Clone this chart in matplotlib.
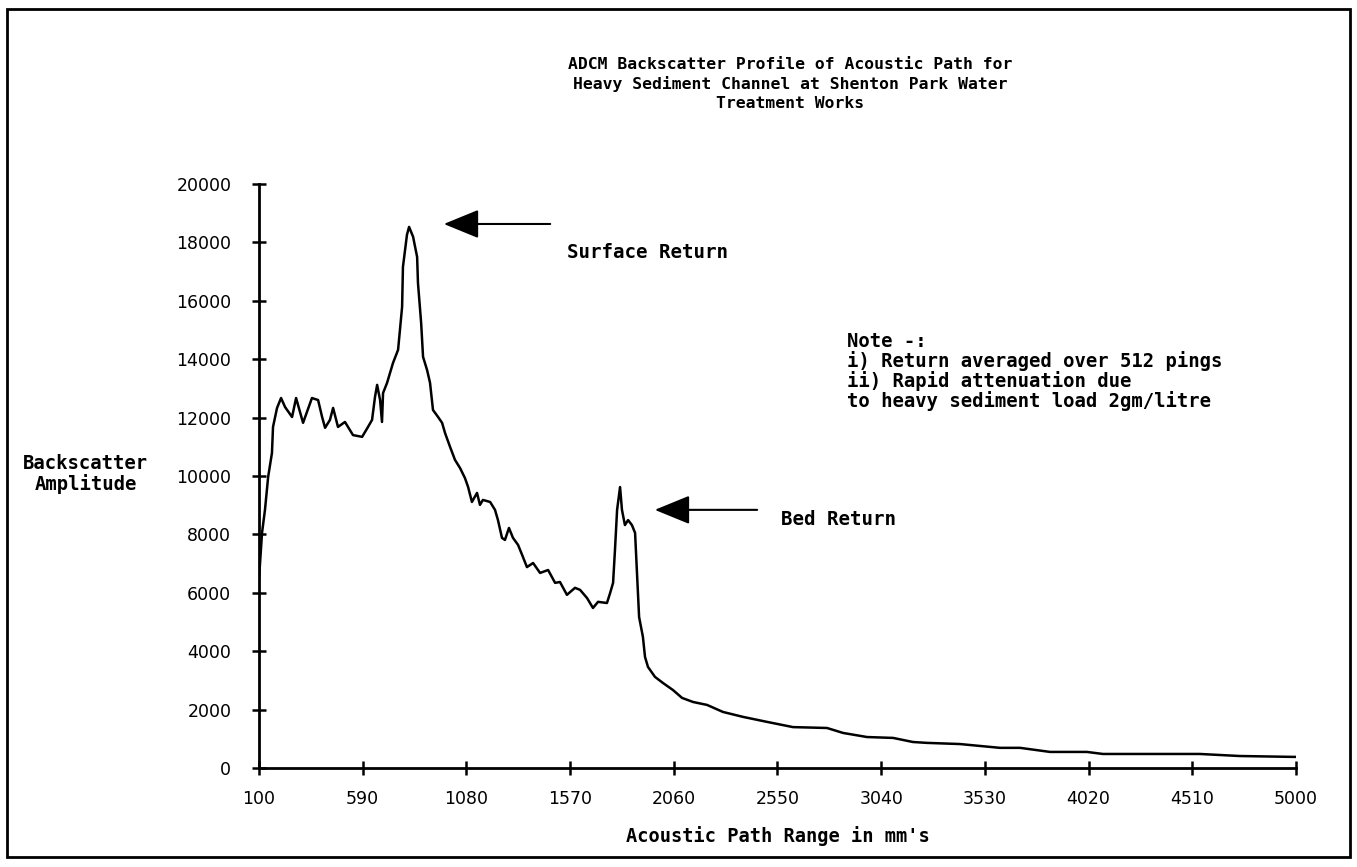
import matplotlib
matplotlib.use("Agg")
import matplotlib.pyplot as plt
from matplotlib.patches import Rectangle

# acoustic path range (mm) and backscatter amplitude
rng = [100, 114, 128, 143, 161, 166, 185, 204, 223, 256, 275, 308, 350, 379, 398, 412,
       435, 450, 473, 506, 544, 587, 615, 634, 648, 658, 672, 681, 686, 705, 719, 733,
       757, 776, 780, 799, 809, 828, 847, 851, 866, 875, 894, 908, 922, 946, 965, 979,
       1003, 1026, 1050, 1073, 1088, 1106, 1130, 1144, 1158, 1192, 1215, 1229, 1248, 1262,
       1281, 1300, 1324, 1343, 1366, 1395, 1428, 1466, 1499, 1522, 1555, 1593, 1617, 1650,
       1678, 1702, 1744, 1759, 1773, 1782, 1792, 1806, 1815, 1829, 1844, 1862, 1877, 1886,
       1896, 1914, 1924, 1938, 1971, 2009, 2056, 2099, 2151, 2217, 2292, 2387, 2500, 2623,
       2784, 2860, 2973, 3096, 3190, 3256, 3412, 3601, 3696, 3838, 4012, 4088, 4230, 4546,
       4735, 4986, 5000]
amp = [6500, 8050, 8840, 9970, 10790, 11680, 12330, 12670, 12360, 12020, 12670, 11820,
       12670, 12600, 12020, 11650, 11920, 12330, 11680, 11850, 11400, 11340, 11680, 11920,
       12710, 13120, 12600, 11850, 12840, 13190, 13530, 13870, 14320, 15790, 17160, 18260,
       18530, 18190, 17500, 16610, 15240, 14080, 13630, 13190, 12260, 12020, 11820, 11470,
       10990, 10550, 10270, 9930, 9620, 9110, 9420, 9010, 9180, 9110, 8840, 8490, 7880,
       7810, 8220, 7880, 7640, 7300, 6880, 7020, 6680, 6780, 6340, 6370, 5930, 6170, 6100,
       5820, 5480, 5690, 5650, 5990, 6340, 7470, 8840, 9620, 8840, 8320, 8490, 8320, 8050,
       6680, 5170, 4490, 3800, 3460, 3120, 2910, 2670, 2400, 2260, 2160, 1920, 1750, 1580,
       1400, 1370, 1200, 1060, 1030, 890, 860, 820, 690, 690, 550, 550, 480, 480, 480, 410,
       380, 380]

xticks = [100, 590, 1080, 1570, 2060, 2550, 3040, 3530, 4020, 4510, 5000]
yticks = list(range(0, 20001, 2000))

title = ("ADCM Backscatter Profile of Acoustic Path for\n"
         "Heavy Sediment Channel at Shenton Park Water\n"
         "Treatment Works")
note = ("Note -:\n"
        "i) Return averaged over 512 pings\n"
        "ii) Rapid attenuation due\n"
        "to heavy sediment load 2gm/litre")

mono = dict(family="DejaVu Sans Mono", fontweight="bold")

fig = plt.figure(figsize=(13.57, 8.67), dpi=100)
ax = fig.add_axes([0.1909, 0.1142, 0.7641, 0.6736])

ax.plot(rng, amp, color="black", lw=1.8)

ax.set_xlim(100, 5000)
ax.set_ylim(0, 20000)
ax.set_xticks(xticks)
ax.set_yticks(yticks)
for s in ["top", "right"]:
    ax.spines[s].set_visible(False)
for s in ["left", "bottom"]:
    ax.spines[s].set_linewidth(2)
ax.tick_params(direction="inout", length=10, width=1.8, labelsize=12.5)
ax.tick_params(axis="x", pad=11)
ax.tick_params(axis="y", pad=15)

ax.set_xlabel("Acoustic Path Range in mm's", fontsize=13.4, labelpad=13, **mono)
fig.text(0.063, 0.453, "Backscatter\nAmplitude", ha="center", va="center",
         fontsize=13.6, linespacing=1.05, **mono)
fig.text(0.582, 0.903, title, ha="center", va="center", fontsize=11.8,
         linespacing=1.3, **mono)

# annotations
ax.annotate("", xy=(960, 18630), xytext=(1489, 18630),
            arrowprops=dict(arrowstyle="-|>,head_length=1.1,head_width=0.45",
                            mutation_scale=20, color="black", lw=1.5))
ax.text(1555, 17650, "Surface Return", fontsize=13.8, va="center", **mono)
ax.annotate("", xy=(1957, 8840), xytext=(2467, 8840),
            arrowprops=dict(arrowstyle="-|>,head_length=1.1,head_width=0.45",
                            mutation_scale=20, color="black", lw=1.5))
ax.text(2565, 8500, "Bed Return", fontsize=13.8, va="center", **mono)
fig.text(0.624, 0.617, note, ha="left", va="top", fontsize=13.6,
         linespacing=1.0, **mono)

fig.patches.append(Rectangle((0.005, 0.012), 0.99, 0.978, transform=fig.transFigure,
                             fill=False, edgecolor="black", lw=2))

fig.savefig("out.png", dpi=100, facecolor="white")
